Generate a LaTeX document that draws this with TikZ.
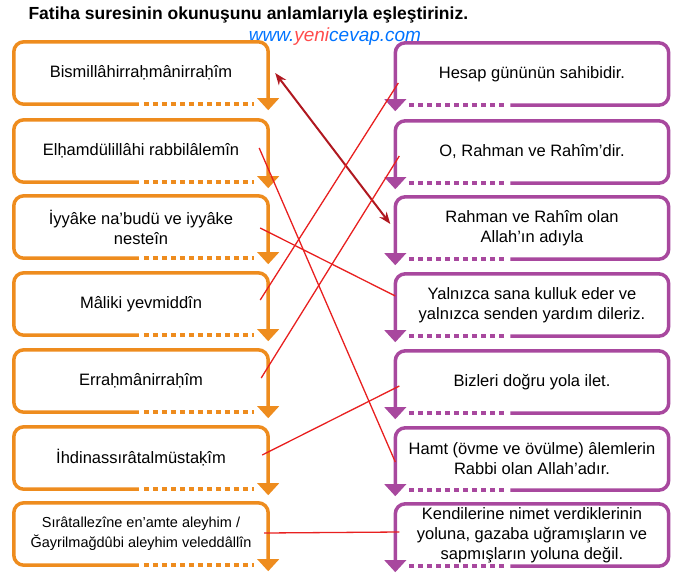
\documentclass[tikz,border=0pt]{standalone}
\usepackage{fontspec}
\setmainfont{Liberation Sans}
\usetikzlibrary{calc,arrows.meta}
\definecolor{boxorange}{HTML}{EE8C1E}
\definecolor{boxpurple}{HTML}{A8489E}
\definecolor{linkred}{HTML}{E82020}
\definecolor{darkred}{HTML}{B01820}
\tikzset{
  tbox/.style={minimum width=254pt, minimum height=62pt, align=center, inner sep=0pt, font=\fontsize{16.5}{20}\selectfont},
  frame/.style={line width=3.5pt, rounded corners=10pt},
  dots/.style={line width=3.5pt, dash pattern=on 5pt off 4pt},
  link/.style={linkred, line width=1.3pt}
}
% left box with arrow at bottom right
\newcommand\lbox[3]{%
  \node[tbox] (#1) at (141,#2) {#3};
  \draw[boxorange, frame] ($(#1.south west)+(125,0)$) -- (#1.south west) -- (#1.north west) -- (#1.north east) -- ($(#1.south east)+(0,-4)$);
  \draw[boxorange, dots] ($(#1.south west)+(130,0)$) -- ($(#1.south east)+(-14,0)$);
  \fill[boxorange] ($(#1.south east)+(-11,-6)$) -- ($(#1.south east)+(11,-6)$) -- ($(#1.south east)+(0,6)$) -- cycle;
}
% right box with arrow at bottom left
\newcommand\rbox[3]{%
  \node[tbox, minimum width=273pt] (#1) at (532,#2) {#3};
  \draw[boxpurple, frame] ($(#1.south west)+(0,-4)$) -- (#1.north west) -- (#1.north east) -- (#1.south east) -- ($(#1.south west)+(115,0)$);
  \draw[boxpurple, dots] ($(#1.south west)+(14,0)$) -- ($(#1.south west)+(110,0)$);
  \fill[boxpurple] ($(#1.south west)+(-11,-6)$) -- ($(#1.south west)+(11,-6)$) -- ($(#1.south west)+(0,6)$) -- cycle;
}
\begin{document}
\begin{tikzpicture}[x=1pt,y=-1pt]
  \useasboundingbox (0,0) rectangle (685,579);
  \node[anchor=west, font=\bfseries\fontsize{17.5}{20}\selectfont] (title) at (25,15) {Fatiha suresinin okunuşunu anlamlarıyla eşleştiriniz.};
  \node[font=\itshape\fontsize{19}{22}\selectfont, text=blue!55!cyan] (web) at (335,37) {www.\textcolor{red!70}{yeni}cevap.com};

  \lbox{L1}{73}{Bismillâhirraḥmânirraḥîm}
  \lbox{L2}{151}{Elḥamdülillâhi rabbilâlemîn}
  \lbox{L3}{227}{İyyâke na’budü ve iyyâke\\nesteîn}
  \lbox{L4}{304}{Mâliki yevmiddîn}
  \lbox{L5}{381}{Erraḥmânirraḥîm}
  \lbox{L6}{458}{İhdinassırâtalmüstaḳîm}
  \lbox{L7}{534}{\fontsize{14.5}{18}\selectfont Sırâtallezîne en’amte aleyhim /\\\fontsize{14.5}{18}\selectfont Ğayrilmağdûbi aleyhim veleddâllîn}

  \rbox{R1}{74}{Hesap gününün sahibidir.}
  \rbox{R2}{152}{O, Rahman ve Rahîm’dir.}
  \rbox{R3}{228}{Rahman ve Rahîm olan\\Allah’ın adıyla}
  \rbox{R4}{305}{Yalnızca sana kulluk eder ve\\yalnızca senden yardım dileriz.}
  \rbox{R5}{382}{Bizleri doğru yola ilet.}
  \rbox{R6}{459}{Hamt (övme ve övülme) âlemlerin\\Rabbi olan Allah’adır.}
  \rbox{R7}{535}{Kendilerine nimet verdiklerinin\\yoluna, gazaba uğramışların ve\\sapmışların yoluna değil.}

  \draw[darkred, line width=2pt, {Stealth[length=12pt,width=9pt]}-{Stealth[length=12pt,width=9pt]}]
    ($(L1.east)+(7,0)$) -- ($(R3.west)+(-5,-4)$);
  \draw[link] ($(L2.east)+(-9,-3)$) -- ($(R6.west)+(0,3)$);
  \draw[link] ($(L3.east)+(-8,1)$) -- ($(R4.west)+(0,-9)$);
  \draw[link] ($(L4.east)+(-8,-4)$) -- ($(R1.west)+(3,9)$);
  \draw[link] ($(L5.east)+(-7,-3)$) -- ($(R2.west)+(4,4)$);
  \draw[link] ($(L6.east)+(-6,-3)$) -- ($(R5.west)+(4,4)$);
  \draw[link] ($(L7.east)+(-4,-1)$) -- ($(R7.west)+(4,-3)$);
\end{tikzpicture}
\end{document}
